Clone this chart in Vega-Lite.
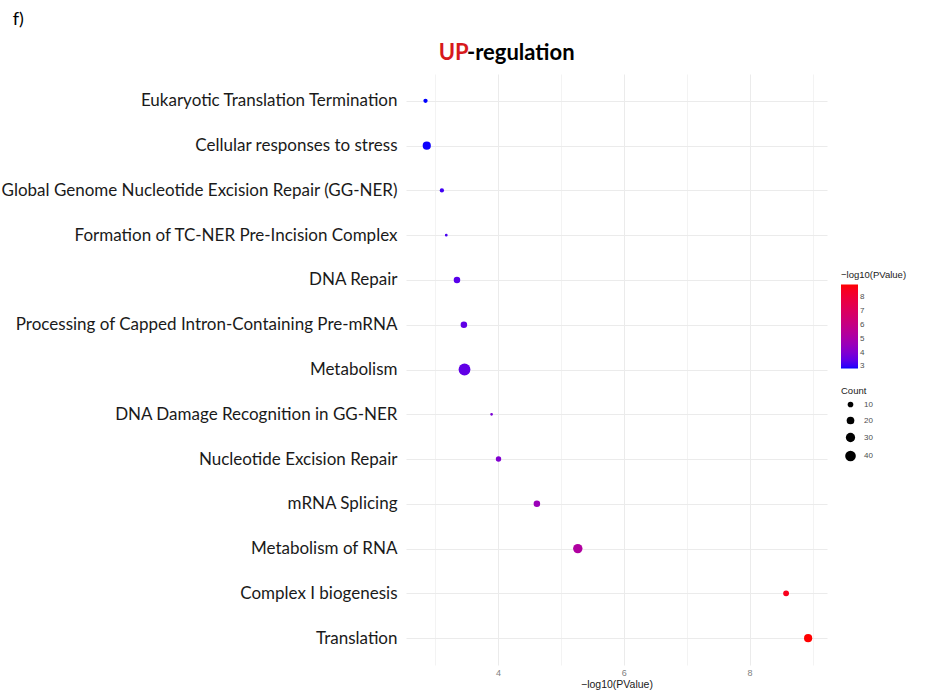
{
  "$schema": "https://vega.github.io/schema/vega-lite/v6.json",
  "background": "white",
  "padding": {"left": 0, "top": 11, "right": 5, "bottom": 4},
  "title": {"text": "f)", "anchor": "start", "frame": "bounds", "fontSize": 18, "font": "Lato", "fontWeight": "normal", "color": "black", "offset": 13, "dx": 12},
  "vconcat": [
    {
      "title": {"text": "UP", "anchor": "start", "frame": "bounds", "dx": 438, "offset": -23, "color": "#d7191c", "fontSize": 22, "fontWeight": "bold", "font": "Lato"},
      "vconcat": [
        {
          "title": {"text": "-regulation", "anchor": "start", "frame": "group", "dx": 61, "offset": 9, "color": "black", "fontSize": 22, "fontWeight": "bold", "font": "Lato"},
          "width": 421,
          "height": 591,
          "data": {
            "values": [
              {"term": "Eukaryotic Translation Termination", "logp": 2.85, "Count": 5},
              {"term": "Cellular responses to stress", "logp": 2.87, "Count": 23},
              {"term": "Global Genome Nucleotide Excision Repair (GG-NER)", "logp": 3.11, "Count": 5},
              {"term": "Formation of TC-NER Pre-Incision Complex", "logp": 3.18, "Count": 1},
              {"term": "DNA Repair", "logp": 3.35, "Count": 14},
              {"term": "Processing of Capped Intron-Containing Pre-mRNA", "logp": 3.46, "Count": 14},
              {"term": "Metabolism", "logp": 3.47, "Count": 50},
              {"term": "DNA Damage Recognition in GG-NER", "logp": 3.9, "Count": 1},
              {"term": "Nucleotide Excision Repair", "logp": 4.01, "Count": 9},
              {"term": "mRNA Splicing", "logp": 4.62, "Count": 14},
              {"term": "Metabolism of RNA", "logp": 5.27, "Count": 31},
              {"term": "Complex I biogenesis", "logp": 8.58, "Count": 11},
              {"term": "Translation", "logp": 8.93, "Count": 23}
            ]
          },
          "mark": {"type": "circle", "opacity": 1},
          "encoding": {
            "y": {
              "field": "term", "type": "nominal", "sort": null,
              "scale": {"type": "point", "padding": 0.6},
              "axis": {"title": null, "domain": false, "ticks": false, "labelFontSize": 17, "labelFont": "Lato", "labelColor": "#1a1a1a", "labelPadding": 9, "grid": true, "gridColor": "#EBEBEB", "gridWidth": 1, "labelLimit": 0}
            },
            "x": {
              "field": "logp", "type": "quantitative",
              "scale": {"domain": [2.54, 9.23], "nice": false, "zero": false},
              "axis": {
                "values": [3, 4, 5, 6, 7, 8, 9],
                "labelExpr": "datum.value % 2 == 0 ? datum.label : ''",
                "grid": true, "gridColor": "#EBEBEB",
                "gridWidth": {"condition": {"test": "datum.value % 2 == 0", "value": 1}, "value": 0.6},
                "domain": false, "ticks": false,
                "labelFontSize": 9, "labelColor": "#808080", "labelFont": "Liberation Sans", "labelPadding": 3,
                "title": "−log10(PValue)", "titleFont": "Liberation Sans", "titleFontSize": 10.5, "titleFontWeight": "normal", "titleColor": "#1a1a1a", "titlePadding": 2
              }
            },
            "color": {
              "field": "logp", "type": "quantitative",
              "scale": {"domain": [2.85, 8.93], "range": ["#0000FF", "#FF0000"], "interpolate": "lab"},
              "legend": {"title": "−log10(PValue)", "values": [3, 4, 5, 6, 7, 8], "gradientLength": 84, "gradientThickness": 17, "direction": "vertical"}
            },
            "size": {
              "field": "Count", "type": "quantitative",
              "scale": {"type": "linear", "domain": [0, 50], "range": [5, 140], "zero": false},
              "legend": {"title": "Count", "values": [10, 20, 30, 40], "symbolFillColor": "black", "symbolStrokeWidth": 0, "symbolType": "circle", "rowPadding": 8, "symbolOffset": 4, "labelOffset": 8}
            }
          }
        }
      ]
    }
  ],
  "config": {
    "view": {"stroke": null},
    "legend": {
      "titleFont": "Liberation Sans", "titleFontSize": 9.5, "titleFontWeight": "normal", "titleColor": "#1a1a1a",
      "labelFont": "Liberation Sans", "labelFontSize": 8, "labelColor": "#4d4d4d",
      "offset": 14, "titlePadding": 5,
      "layout": {"right": {"anchor": "middle", "direction": "vertical", "margin": 15}}
    }
  }
}
